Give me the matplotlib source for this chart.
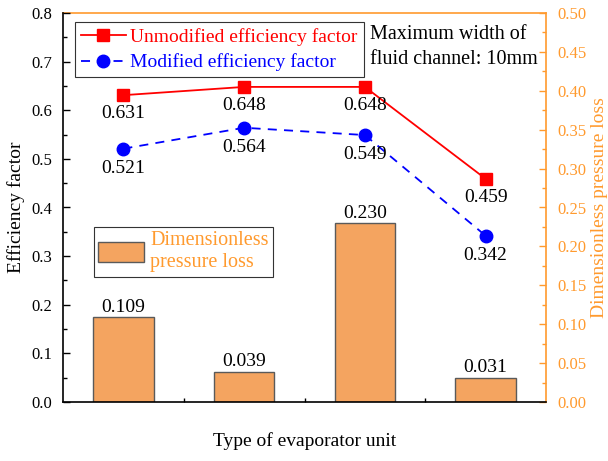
import matplotlib
matplotlib.use("Agg")
import matplotlib.pyplot as plt
from matplotlib.ticker import MultipleLocator, FixedLocator, NullLocator

plt.rcParams['font.family'] = ['Liberation Serif', 'DejaVu Serif']

categories = ["Hexagon", "Grid", "Rectangle", "Linear"]
unmodified = [0.631, 0.648, 0.648, 0.459]
modified = [0.521, 0.564, 0.549, 0.342]
pressure_loss = [0.109, 0.039, 0.230, 0.031]

ORANGE = '#FF9A2E'
BAR = '#F4A460'

fig = plt.figure(figsize=(6.08, 4.61), dpi=100)
ax = fig.add_axes([63/608, 1-402/461, (546-63)/608, (402-13)/461])
ax2 = ax.twinx()
ax.set_zorder(ax2.get_zorder() + 1)
ax.patch.set_visible(False)

x = list(range(len(categories)))
bars = ax2.bar(x, pressure_loss, width=0.5, color=BAR, edgecolor='#5a5a5a', linewidth=1.0,
               label='Dimensionless\npressure loss')
for xi, v in zip(x, pressure_loss):
    ax2.annotate(f"{v:.3f}", (xi, v), xytext=(0, 1), textcoords='offset points',
                 ha='center', va='bottom', fontsize=14)

l1, = ax.plot(x, unmodified, '-s', color='red', markersize=8, linewidth=1.3,
              label='Unmodified efficiency factor')
l2, = ax.plot(x, modified, '--o', color='blue', markersize=9, linewidth=1.3,
              dashes=(5, 4), label='Modified efficiency factor')
for xi, v in zip(x, unmodified):
    ax.annotate(f"{v:.3f}", (xi, v), xytext=(0, -7), textcoords='offset points',
                ha='center', va='top', fontsize=14)
for xi, v in zip(x, modified):
    ax.annotate(f"{v:.3f}", (xi, v), xytext=(0, -8), textcoords='offset points',
                ha='center', va='top', fontsize=14)

ax.set_xlim(-0.5, 3.5)
ax.set_ylim(0, 0.8)
ax2.set_ylim(0, 0.5)

ax.set_xticks(x)
ax.set_xticklabels(categories, fontsize=12)
ax.xaxis.set_minor_locator(FixedLocator([0.5, 1.5, 2.5]))
ax.tick_params(axis='x', which='major', length=0, pad=12)
ax.tick_params(axis='x', which='minor', direction='in', length=3, width=1)

ax.yaxis.set_major_locator(MultipleLocator(0.1))
ax.yaxis.set_minor_locator(MultipleLocator(0.05))
ax.tick_params(axis='y', which='major', direction='in', length=5, width=1, labelsize=12, pad=8)
ax.tick_params(axis='y', which='minor', direction='in', length=3, width=1)
ax.yaxis.set_major_formatter(matplotlib.ticker.FormatStrFormatter('%.1f'))

ax2.yaxis.set_major_locator(MultipleLocator(0.05))
ax2.yaxis.set_minor_locator(MultipleLocator(0.025))
ax2.yaxis.set_major_formatter(matplotlib.ticker.FormatStrFormatter('%.2f'))
ax2.tick_params(axis='y', which='major', direction='in', length=5, width=1, labelsize=12,
                colors=ORANGE, pad=8)
ax2.tick_params(axis='y', which='minor', direction='in', length=3, width=1, colors=ORANGE)
ax2.xaxis.set_major_locator(NullLocator())

ax.spines['top'].set_visible(False)
ax.spines['right'].set_visible(False)
ax2.spines['left'].set_visible(False)
ax2.spines['bottom'].set_visible(False)
ax2.spines['top'].set_color(ORANGE)
ax2.spines['right'].set_color(ORANGE)
for s in ['left', 'bottom']:
    ax.spines[s].set_linewidth(1.2)
for s in ['top', 'right']:
    ax2.spines[s].set_linewidth(1.2)

ax.set_ylabel('Efficiency factor', fontsize=14, labelpad=4)
ax.set_xlabel('Type of evaporator unit', fontsize=14, labelpad=18)
ax2.set_ylabel('Dimensionless pressure loss', fontsize=14, color=ORANGE, labelpad=3)

leg1 = ax.legend(handles=[l1, l2], loc='upper left', bbox_to_anchor=(0.025, 0.977),
                 borderaxespad=0, prop={'size': 14}, frameon=True, fancybox=False,
                 edgecolor='#333333', framealpha=1, handlelength=2.3,
                 borderpad=0.3, labelspacing=0.4, handletextpad=0.25)
for t, c in zip(leg1.get_texts(), ['red', 'blue']):
    t.set_color(c)
leg1.get_frame().set_linewidth(0.8)
ax.add_artist(leg1)

leg2 = ax.legend(handles=[bars], loc='upper left', bbox_to_anchor=(0.064, 0.45),
                 borderaxespad=0, prop={'size': 14.5}, frameon=True, fancybox=False,
                 edgecolor='#333333', framealpha=1, handlelength=2.3, handleheight=1.1,
                 borderpad=0.2, handletextpad=0.3)
for t in leg2.get_texts():
    t.set_color(ORANGE)
    t.set_linespacing(1.25)
leg2.get_frame().set_linewidth(0.8)

ax.text((370-63)/483, (402-25)/389, 'Maximum width of\nfluid channel: 10mm',
        transform=ax.transAxes, ha='left', va='top', fontsize=14.5, linespacing=1.4)

fig.savefig('out.png', dpi=100)
